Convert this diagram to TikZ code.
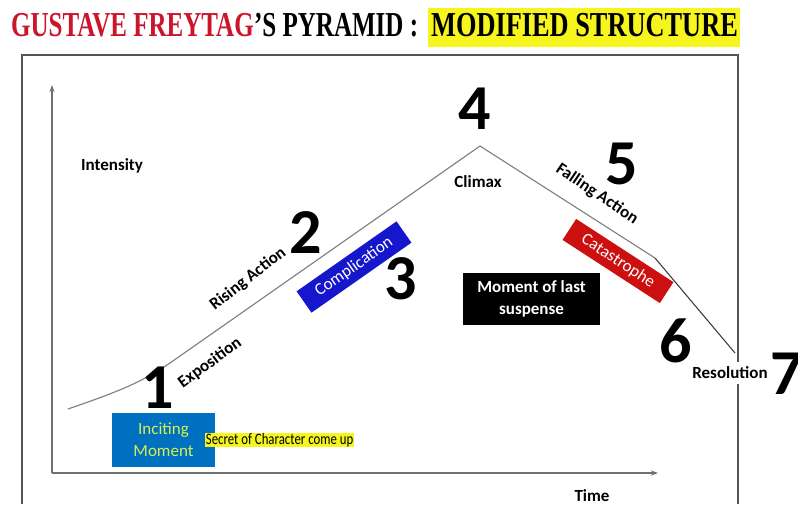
\documentclass[tikz,border=0pt]{standalone}
\usepackage{fontspec}
\setmainfont{Carlito}
\newfontfamily\titlefont{Liberation Serif}
\usetikzlibrary{arrows.meta,calc}
\definecolor{titlered}{RGB}{204,20,44}
\definecolor{hl}{RGB}{246,246,30}
\definecolor{complblue}{RGB}{22,22,204}
\definecolor{catared}{RGB}{204,16,16}
\definecolor{incblue}{RGB}{0,112,192}
\definecolor{inctext}{RGB}{214,240,80}
\definecolor{linegray}{RGB}{125,125,125}
\definecolor{framegray}{RGB}{85,85,85}
\begin{document}
\begin{tikzpicture}[x=1pt,y=-1pt,
  ttl/.style={font=\titlefont\bfseries\fontsize{35}{35}\selectfont, inner sep=0, anchor=base west, xscale=0.715},
  lbl/.style={font=\bfseries\fontsize{17}{19}\selectfont, inner sep=0},
  num/.style={font=\bfseries\fontsize{64}{64}\selectfont, inner sep=0},
  tagbox/.style={font=\fontsize{17}{19}\selectfont, text=white, inner sep=0},
  axisline/.style={draw=linegray!90!black, line width=1.2pt, -{Stealth[length=7pt,width=5pt]}},
  framel/.style={draw=framegray, line width=1.3pt},
  plotl/.style={draw=linegray, line width=1.1pt}
]
\useasboundingbox (0,0) rectangle (798,504);
\fill[white] (0,0) rectangle (798,504);

% title
\node[fill=hl, minimum width=312, minimum height=39, inner sep=0] (hlbox) at (584,27.5) {};
\node[ttl, text=titlered] (tA) at (11,36) {GUSTAVE FREYTAG};
\node[ttl] (tB) at (tA.base east) {’S PYRAMID :};
\node[ttl, xscale=1.053] (tC) at (431,36) {MODIFIED STRUCTURE};

% frame
\draw[framel] (22,504) -- (22,55) -- (738,55) -- (738,504);

% axes
\coordinate (origin) at (52,473);
\coordinate (ytip) at (52,85);
\coordinate (xtip) at (658,473);
\draw[axisline] (origin) -- (ytip);
\draw[axisline] (origin) -- (xtip);

% plot
\coordinate (p0) at (68,409);
\coordinate (p1) at (170,363);
\coordinate (peak) at (480,146);
\coordinate (p5) at (655,258);
\coordinate (pend) at (735,353);
\draw[plotl] (p0) .. controls (120,391) and (140,383) .. (p1) -- (peak) -- (p5);
\draw[draw=black!75, line width=1.1pt] (p5) -- (pend);

% labels
\node[lbl] (intensity) at (112,166) {Intensity};
\node[lbl, rotate=36] (expo) at (210,363) {Exposition};
\node[lbl, rotate=38] (rising) at (248,279) {Rising Action};
\node[lbl] (climax) at (478,182) {Climax};
\node[lbl, rotate=-34] (falling) at (597,194) {Falling Action};
\node[lbl, fill=white, inner ysep=5pt, inner xsep=1pt] (resol) at (730,373) {Resolution};
\node[lbl] (time) at (592,496) {Time};

% numbers
\node[num] (n1) at (158,388) {1};
\node[num] (n2) at (306,233) {2};
\node[num] (n3) at (401,279) {3};
\node[num] (n4) at (475,109) {4};
\node[num] (n5) at (622,164) {5};
\node[num] (n6) at (676,341) {6};
\node[num] (n7) at (787,374) {7};

% boxes
\node[tagbox, fill=complblue, rotate=35, minimum width=122, minimum height=26] (compl) at (354,267) {Complication};
\node[tagbox, fill=catared, rotate=-33, minimum width=116, minimum height=25] (catas) at (618,261) {Catastrophe};
\node[tagbox, font=\bfseries\fontsize{17}{22}\selectfont, fill=black, align=center, minimum width=137, minimum height=52] (susp) at (531.5,299) {Moment of last\\suspense};
\node[tagbox, text=inctext, fill=incblue, align=center, font=\fontsize{17}{22}\selectfont, minimum width=103, minimum height=54] (incit) at (163.5,440) {Inciting\\Moment};
\node[fill=hl, inner xsep=1pt, inner ysep=0.5pt, xscale=0.8, font=\fontsize{16}{16}\selectfont, anchor=west] (secret) at (205,440) {Secret of Character come up};
\end{tikzpicture}
\end{document}
